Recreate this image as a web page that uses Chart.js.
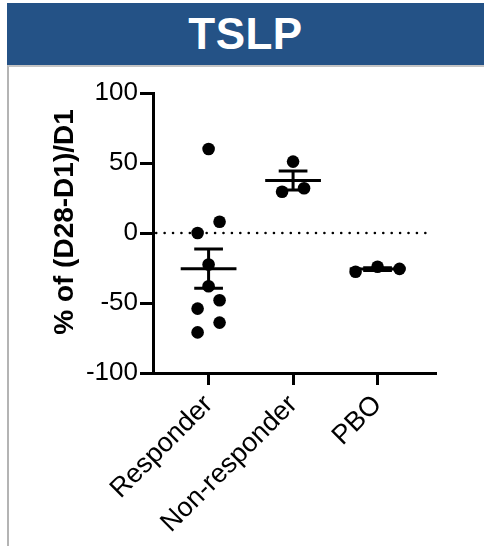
<!DOCTYPE html>
<html>
<head>
<meta charset="utf-8">
<script src="https://cdn.jsdelivr.net/npm/chart.js@4/dist/chart.umd.min.js"></script>
<style>
  html, body { margin: 0; padding: 0; background: #ffffff; }
  body { width: 484px; height: 546px; position: relative; overflow: hidden; font-family: "Liberation Sans", Arial, sans-serif; }
  #banner {
    position: absolute; left: 7px; top: 3px; width: 477px; height: 62px;
    background: #245286; color: #ffffff; font-weight: bold; font-size: 44px;
    display: flex; align-items: center; justify-content: center; letter-spacing: 0.5px;
  }
  #panel {
    position: absolute; left: 7px; top: 65px; width: 477px; height: 481px;
    border-left: 2px solid #b4b4b4; border-top: 2px solid #c4c4c4; box-sizing: border-box;
  }
  #chartBox { position: absolute; left: 0; top: 0; width: 484px; height: 546px; }
</style>
</head>
<body>
<div id="banner">TSLP</div>
<div id="panel"></div>
<div id="chartBox"><canvas id="chart"></canvas></div>
<script>
// Groups on the x axis and the individual % change values in each group
const categories = ['Responder', 'Non-responder', 'PBO'];
const responderValues = [60, 8, 0, -22.5, -38, -48, -54, -64, -71];
const nonResponderValues = [51, 29.5, 32];
const pboValues = [-27.7, -24.1, -25.6];
const yTickValues = [-100, -50, 0, 50, 100];
const yAxisTitle = '% of (D28-D1)/D1';

// Horizontal spread lanes for the dots so close values do not overlap
const responderLanes = [0, 1, -1, 0, 0, 1, -1, 1, -1];
const nonResponderLanes = [0, -1, 1];
const pboLanes = [-2, 0, 2];
const LANE = 0.13;          // lane width in category units
const MEAN_HALF = 0.33;     // half width of the mean bar
const CAP_HALF = 0.17;      // half width of the SEM caps

const groups = [
  { center: 1, values: responderValues, lanes: responderLanes },
  { center: 2, values: nonResponderValues, lanes: nonResponderLanes },
  { center: 3, values: pboValues, lanes: pboLanes }
];

function mean(a) { return a.reduce((s, v) => s + v, 0) / a.length; }
function sem(a) {
  const m = mean(a);
  const sd = Math.sqrt(a.reduce((s, v) => s + (v - m) * (v - m), 0) / (a.length - 1));
  return sd / Math.sqrt(a.length);
}

const datasets = [];

// dotted reference line at zero
datasets.push({
  type: 'line',
  data: [{ x: 0.38, y: 0 }, { x: 3.646, y: 0 }],
  borderColor: '#000',
  borderWidth: 2.6,
  borderDash: [0.01, 8.4],
  borderCapStyle: 'round',
  pointRadius: 0,
  order: 3
});

groups.forEach(g => {
  const m = mean(g.values);
  const e = sem(g.values);
  // mean bar
  datasets.push({
    type: 'line',
    data: [{ x: g.center - MEAN_HALF, y: m }, { x: g.center + MEAN_HALF, y: m }],
    borderColor: '#000', borderWidth: 3, pointRadius: 0, order: 2
  });
  // SEM whisker with caps
  datasets.push({
    type: 'line',
    data: [
      { x: g.center - CAP_HALF, y: m + e }, { x: g.center + CAP_HALF, y: m + e },
      { x: g.center, y: null },
      { x: g.center, y: m + e }, { x: g.center, y: m - e },
      { x: g.center, y: null },
      { x: g.center - CAP_HALF, y: m - e }, { x: g.center + CAP_HALF, y: m - e }
    ],
    borderColor: '#000', borderWidth: 3, pointRadius: 0, spanGaps: false, order: 2
  });
  // individual subjects
  datasets.push({
    type: 'scatter',
    data: g.values.map((v, i) => ({ x: g.center + g.lanes[i] * LANE, y: v })),
    backgroundColor: '#000', borderWidth: 0, pointRadius: 6.3, pointHoverRadius: 6.3, order: 1
  });
});

const FONT = '"Liberation Sans", Arial, sans-serif';

// vertical axis title, drawn beside the y axis
const yTitlePlugin = {
  id: 'yTitle',
  afterDraw(chart) {
    const { ctx } = chart;
    ctx.save();
    ctx.translate(65, 222);
    ctx.rotate(-Math.PI / 2);
    ctx.fillStyle = '#000';
    ctx.font = 'bold 28px ' + FONT;
    ctx.textAlign = 'center';
    ctx.textBaseline = 'middle';
    ctx.fillText(yAxisTitle, 0, 0);
    ctx.restore();
  }
};

new Chart(document.getElementById('chart'), {
  type: 'scatter',
  data: { datasets },
  plugins: [yTitlePlugin],
  options: {
    responsive: true,
    maintainAspectRatio: false,
    animation: false,
    events: [],
    layout: { padding: { top: 93, right: 49, left: 0, bottom: 0 } },
    plugins: { legend: { display: false }, tooltip: { enabled: false } },
    scales: {
      x: {
        type: 'linear',
        min: 0.342,
        max: 3.68,
        afterBuildTicks: s => { s.ticks = [1, 2, 3].map(v => ({ value: v })); },
        afterFit: s => { s.height = 173; },
        ticks: {
          autoSkip: false,
          minRotation: 45,
          maxRotation: 45,
          padding: 4,
          color: '#000',
          font: { family: FONT, size: 27 },
          callback: v => categories[v - 1] || ''
        },
        grid: { drawOnChartArea: false, drawTicks: true, tickLength: 12, color: '#000', lineWidth: 3 },
        border: { display: true, color: '#000', width: 3 }
      },
      y: {
        type: 'linear',
        min: -100,
        max: 100,
        afterBuildTicks: s => { s.ticks = yTickValues.map(v => ({ value: v })); },
        afterFit: s => { s.width = 153; },
        ticks: {
          padding: 2,
          color: '#000',
          font: { family: FONT, size: 26 }
        },
        grid: { drawOnChartArea: false, drawTicks: true, tickLength: 13, color: '#000', lineWidth: 3 },
        border: { display: true, color: '#000', width: 3 }
      }
    }
  }
});
</script>
</body>
</html>
